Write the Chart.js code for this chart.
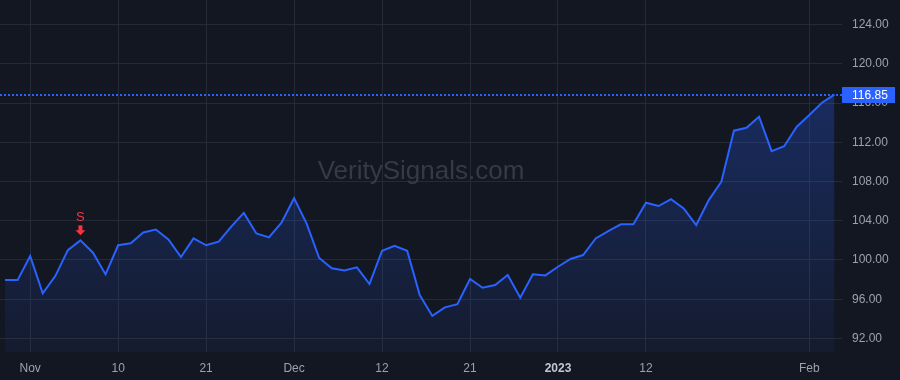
<!DOCTYPE html>
<html>
<head>
<meta charset="utf-8">
<script src="https://cdn.jsdelivr.net/npm/chart.js@4/dist/chart.umd.min.js"></script>
<style>
  html, body { margin: 0; padding: 0; background: #131722; }
  #wrap { width: 900px; height: 380px; }
</style>
</head>
<body>
<div id="wrap"><canvas id="priceChart" width="900" height="380"></canvas></div>
<script>
// trading days shown on the chart
const dates = [
	"2022-10-28", "2022-10-31",
	"2022-11-01", "2022-11-02", "2022-11-03", "2022-11-04",
	"2022-11-07", "2022-11-08", "2022-11-09", "2022-11-10", "2022-11-11",
	"2022-11-14", "2022-11-15", "2022-11-16", "2022-11-17", "2022-11-18",
	"2022-11-21", "2022-11-22", "2022-11-23", "2022-11-25",
	"2022-11-28", "2022-11-29", "2022-11-30",
	"2022-12-01", "2022-12-02",
	"2022-12-05", "2022-12-06", "2022-12-07", "2022-12-08", "2022-12-09",
	"2022-12-12", "2022-12-13", "2022-12-14", "2022-12-15", "2022-12-16",
	"2022-12-19", "2022-12-20", "2022-12-21", "2022-12-22", "2022-12-23",
	"2022-12-27", "2022-12-28", "2022-12-29", "2022-12-30",
	"2023-01-03", "2023-01-04", "2023-01-05", "2023-01-06",
	"2023-01-09", "2023-01-10", "2023-01-11", "2023-01-12", "2023-01-13",
	"2023-01-17", "2023-01-18", "2023-01-19", "2023-01-20",
	"2023-01-23", "2023-01-24", "2023-01-25", "2023-01-26", "2023-01-27",
	"2023-01-30", "2023-01-31",
	"2023-02-01", "2023-02-02", "2023-02-03",
];

// closing prices
const closes = [
	97.95, 97.95,
	100.4, 96.6, 98.36, 101.0,
	102.0, 100.74, 98.53, 101.5, 101.7,
	102.8, 103.1, 102.1, 100.3, 102.2,
	101.5, 101.86, 103.4, 104.8,
	102.7, 102.3, 103.8,
	106.3, 103.7,
	100.2, 99.15, 98.94, 99.25, 97.55,
	100.94, 101.45, 100.94, 96.43, 94.3,
	95.17, 95.5, 98.06, 97.17, 97.45,
	98.46, 96.15, 98.54, 98.43,
	99.31, 100.1, 100.5, 102.2,
	102.95, 103.63, 103.63, 105.84, 105.5,
	106.2, 105.26, 103.56, 106.1,
	107.98, 113.18, 113.48, 114.6, 111.1,
	111.6, 113.58,
	114.77, 116.03, 116.85,
];

const xTickDates = ["2022-11-01", "2022-11-10", "2022-11-21", "2022-12-01", "2022-12-12", "2022-12-21", "2023-01-03", "2023-01-12", "2023-02-01"];
const xTickLabels = ["Nov", "10", "21", "Dec", "12", "21", "2023", "12", "Feb"];
const yTicks = [92, 96, 100, 104, 108, 112, 116, 120, 124];

const signalDates = ["2022-11-07"];
const signalTexts = ["S"];

const lastPrice = closes[closes.length - 1];

const BG = "#131722";
const GRID = "#262a36";
const TEXT = "#9ea1aa";
const BLUE = "#2962ff";
const RED = "#f23645";
const FONT = "'Liberation Sans', Arial, sans-serif";

const xTickIndex = xTickDates.map(d => dates.indexOf(d));

function isYearTick(c) {
	return !!(c && c.tick && xTickLabels[xTickIndex.indexOf(c.tick.value)] === "2023");
}

function noPad(scale) {
	scale.paddingTop = 0;
	scale.paddingBottom = 0;
	scale.paddingLeft = 0;
	scale.paddingRight = 0;
}

const extras = {
	id: "extras",
	beforeDraw(chart) {
		const c = chart.ctx;
		c.save();
		c.fillStyle = BG;
		c.fillRect(0, 0, chart.width, chart.height);
		c.restore();
	},
	beforeDatasetsDraw(chart) {
		const c = chart.ctx;
		const a = chart.chartArea;
		c.save();
		c.font = "26px " + FONT;
		c.fillStyle = "#363a46";
		c.textAlign = "center";
		c.textBaseline = "middle";
		c.fillText("VeritySignals.com", (a.left + a.right) / 2, 172);
		c.restore();
	},
	afterDatasetsDraw(chart) {
		const c = chart.ctx;
		const a = chart.chartArea;
		const xs = chart.scales.x;
		const ys = chart.scales.y;
		// signals
		signalDates.forEach((d, k) => {
			const i = dates.indexOf(d);
			const px = xs.getPixelForValue(i);
			const py = ys.getPixelForValue(closes[i]);
			c.save();
			c.fillStyle = RED;
			c.beginPath();
			c.moveTo(px - 5, py - 10);
			c.lineTo(px + 5, py - 10);
			c.lineTo(px, py - 5);
			c.closePath();
			c.fill();
			c.fillRect(px - 2, py - 15, 4, 6);
			c.font = "13px " + FONT;
			c.textAlign = "center";
			c.textBaseline = "middle";
			c.fillText(signalTexts[k], px, py - 23);
			c.restore();
		});
		// last price line, dotted
		const ly = Math.round(ys.getPixelForValue(lastPrice)) - 1;
		c.save();
		c.fillStyle = BLUE;
		for (let x = Math.round(a.left); x < a.right; x += 4) {
			c.fillRect(x, ly, 2, 2);
		}
		c.restore();
	},
	afterDraw(chart) {
		const c = chart.ctx;
		const a = chart.chartArea;
		const ys = chart.scales.y;
		const ly = ys.getPixelForValue(lastPrice);
		c.save();
		c.fillStyle = BLUE;
		c.fillRect(a.right, Math.round(ly) - 8, 53, 16);
		c.fillStyle = "#ffffff";
		c.font = "12px " + FONT;
		c.textAlign = "left";
		c.textBaseline = "middle";
		c.fillText(lastPrice.toFixed(2), a.right + 10, Math.round(ly) + 0.5);
		c.restore();
	},
};

const ctx = document.getElementById("priceChart");

new Chart(ctx, {
	type: "line",
	data: {
		datasets: [
			{
				data: closes.map((v, i) => ({ x: i, y: v })),
				borderColor: BLUE,
				borderWidth: 2,
				pointRadius: 0,
				tension: 0,
				fill: "start",
				backgroundColor: (context) => {
					const area = context.chart.chartArea;
					if (!area) return "rgba(41,98,255,0.15)";
					const g = context.chart.ctx.createLinearGradient(0, area.top + 90, 0, area.bottom);
					g.addColorStop(0, "rgba(41,98,255,0.28)");
					g.addColorStop(1, "rgba(41,98,255,0.06)");
					return g;
				},
			},
		],
	},
	options: {
		responsive: false,
		animation: false,
		layout: { padding: 0 },
		plugins: {
			legend: { display: false },
			tooltip: { enabled: false },
		},
		scales: {
			x: {
				type: "linear",
				min: -0.4,
				max: dates.length - 0.4,
				afterBuildTicks: (scale) => {
					scale.ticks = xTickIndex.map(v => ({ value: v }));
				},
				afterFit: (scale) => { scale.height = 28; noPad(scale); },
				grid: { color: GRID, drawTicks: false },
				border: { display: false },
				ticks: {
					autoSkip: false,
					maxRotation: 0,
					padding: 9,
					color: (c) => (isYearTick(c) ? "#c3c6ce" : TEXT),
					font: (c) => ({
						family: FONT,
						size: 12,
						weight: isYearTick(c) ? "bold" : "normal",
					}),
					callback: (v) => xTickLabels[xTickIndex.indexOf(v)],
				},
			},
			y: {
				position: "right",
				min: 90.62,
				max: 126.5,
				afterBuildTicks: (scale) => {
					scale.ticks = yTicks.map(v => ({ value: v }));
				},
				afterFit: (scale) => { scale.width = 58; noPad(scale); },
				grid: { color: GRID, drawTicks: false },
				border: { display: false },
				ticks: {
					padding: 10,
					color: TEXT,
					font: { family: FONT, size: 12 },
					callback: (v) => v.toFixed(2),
				},
			},
		},
	},
	plugins: [extras],
});
</script>
</body>
</html>
